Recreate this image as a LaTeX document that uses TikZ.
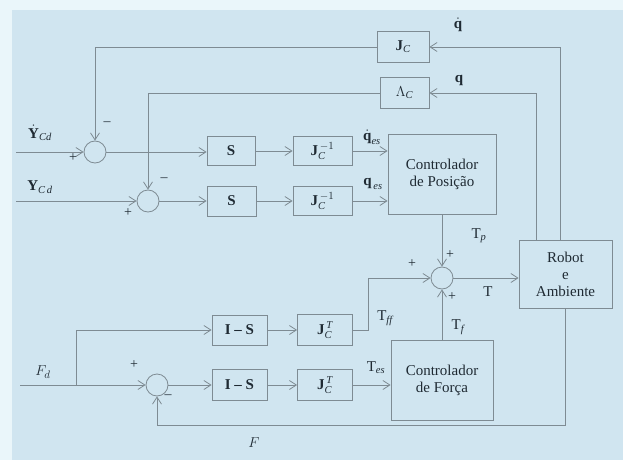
\documentclass[tikz,border=0pt]{standalone}
\usepackage{amsmath}
\usepackage{fontspec}
\setmainfont{Liberation Serif}
\usetikzlibrary{arrows.meta}
\definecolor{bgouter}{HTML}{EAF6FA}
\definecolor{bgmain}{HTML}{D0E5F0}
\definecolor{ln}{HTML}{7E8B93}
\definecolor{tx}{HTML}{1F2A33}
\newcommand\JCm{\textbf{J}_{\textit{C}}}
\begin{document}
\begin{tikzpicture}[x=1pt,y=-1pt,
  every node/.style={text=tx,font=\fontsize{15}{17}\selectfont},
  blk/.style={draw=ln,line width=0.8pt,inner sep=0pt,align=center},
  sumc/.style={draw=ln,line width=0.8pt,circle,minimum size=22pt,inner sep=0pt},
  wire/.style={draw=ln,line width=0.8pt},
  arr/.style={draw=ln,line width=0.8pt,-{Straight Barb[length=7pt,width=9pt]}},
  sgn/.style={font=\fontsize{14}{16}\selectfont,inner sep=0pt},
  lbl/.style={inner sep=0pt}]
\fill[bgouter] (0,0) rectangle (623,460);
\fill[bgmain] (12,10) rectangle (623,460);
\useasboundingbox (0,0) rectangle (623,460);

% blocks
\node[blk,minimum width=52pt,minimum height=31pt] (JC) at (403,47) {$\JCm$};
\node[blk,minimum width=49pt,minimum height=31pt] (LC) at (404.5,93) {$\Lambda_{\textit{C}}$};
\node[blk,minimum width=48pt,minimum height=29pt] (S1) at (231,151) {\textbf{S}};
\node[blk,minimum width=49pt,minimum height=30pt] (S2) at (231.5,201) {\textbf{S}};
\node[blk,minimum width=59pt,minimum height=29pt] (Ji1) at (322.5,151) {$\JCm^{\,-1}$};
\node[blk,minimum width=59pt,minimum height=29pt] (Ji2) at (322.5,201) {$\JCm^{\,-1}$};
\node[blk,minimum width=108pt,minimum height=80pt] (CP) at (442,174) {Controlador\\de Posição};
\node[blk,minimum width=93pt,minimum height=68pt] (RB) at (565.5,274) {Robot\\e\\Ambiente};
\node[blk,minimum width=55pt,minimum height=30pt] (IS1) at (239.5,330) {\textbf{I -- S}};
\node[blk,minimum width=55pt,minimum height=31pt] (IS2) at (239.5,385) {\textbf{I -- S}};
\node[blk,minimum width=55pt,minimum height=31pt] (JT1) at (325,330) {$\JCm^{\,\textit{T}}$};
\node[blk,minimum width=55pt,minimum height=31pt] (JT2) at (325,385) {$\JCm^{\,\textit{T}}$};
\node[blk,minimum width=102pt,minimum height=80pt] (CF) at (442,380) {Controlador\\de Força};

% summing junctions
\node[sumc] (s1) at (95,152) {};
\node[sumc] (s2) at (148,201) {};
\node[sumc] (s3) at (442,278) {};
\node[sumc] (s4) at (157,385) {};

% free ends
\coordinate (inYd) at (16,152);
\coordinate (inY) at (16,201);
\coordinate (inF) at (20,385);
\coordinate (br) at (76,385);

% forward paths
\draw[arr] (inYd) -- (s1.west);
\draw[arr] (inY) -- (s2.west);
\draw[arr] (s1.east) -- (S1.west |- s1.east);
\draw[arr] (s2.east) -- (S2.west);
\draw[arr] (S1.east) -- (Ji1.west);
\draw[arr] (S2.east) -- (Ji2.west);
\draw[arr] (Ji1.east) -- (CP.west |- Ji1.east);
\draw[arr] (Ji2.east) -- (CP.west |- Ji2.east);
\draw[arr] (CP.south) -- (s3.north);
\draw[arr] (s3.east) -- (RB.west |- s3.east);

% feedback of velocity and position
\draw[arr] (RB.north -| 560,0) -- (560,47) -- (JC.east);
\draw[arr] (RB.north -| 536,0) -- (536,93) -- (LC.east);
\draw[arr] (JC.west) -- (95,47) -- (s1.north);
\draw[arr] (LC.west) -- (148,93) -- (s2.north);

% force paths
\draw[arr] (inF) -- (s4.west);
\draw[arr] (br) -- (76,330) -- (IS1.west);
\draw[arr] (s4.east) -- (IS2.west);
\draw[arr] (IS1.east) -- (JT1.west);
\draw[arr] (IS2.east) -- (JT2.west);
\draw[arr] (JT1.east) -- (368,330) -- (368,278) -- (s3.west);
\draw[arr] (JT2.east) -- (CF.west |- JT2.east);
\draw[arr] (CF.north) -- (s3.south);
\draw[arr] (RB.south) -- (565.5,425) -- (157,425) -- (s4.south);

% labels
\node[lbl] (lYd) at (40,133) {$\dot{\textbf{Y}}_{\textit{Cd}}$};
\node[lbl] (lY) at (40,187) {$\textbf{Y}_{\textit{C\,d}}$};
\node[lbl] (lFd) at (43,372) {$F_{d}$};
\node[lbl] (lF) at (254,443) {$F$};
\node[lbl] (lqd) at (458,25) {$\dot{\textbf{q}}$};
\node[lbl] (lq) at (459,80) {\textbf{q}};
\node[lbl] (lqdes) at (372,137) {$\dot{\textbf{q}}_{\textit{es}}$};
\node[lbl] (lqes) at (373,184) {$\textbf{q}_{\,\textit{es}}$};
\node[lbl] (lTp) at (479,236) {T$_{\textit{p}}$};
\node[lbl] (lT) at (488,292) {T};
\node[lbl] (lTff) at (385,318) {T$_{\textit{ff}}$};
\node[lbl] (lTf) at (458,327) {T$_{\textit{f}}$};
\node[lbl] (lTes) at (376,368) {T$_{\textit{es}}$};

% signs
\node[sgn] (p1) at (73,158) {+};
\node[sgn] (m1) at (107,124) {--};
\node[sgn] (p2) at (128,213) {+};
\node[sgn] (m2) at (164,180) {--};
\node[sgn] (p3a) at (450,255) {+};
\node[sgn] (p3b) at (412,264) {+};
\node[sgn] (p3c) at (452,297) {+};
\node[sgn] (p4) at (134,365) {+};
\node[sgn] (m4) at (168,397) {--};
\end{tikzpicture}
\end{document}
